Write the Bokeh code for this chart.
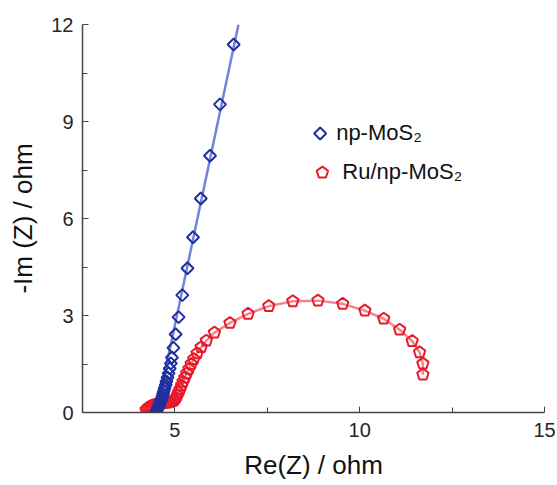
import math
from bokeh.plotting import figure
from bokeh.models import Range1d, FixedTicker
from bokeh.core.properties import value
from bokeh.embed import file_html
from bokeh.resources import INLINE

# Nyquist data (Re(Z), -Im(Z)) in ohm
np_re = [4.50, 4.52, 4.54, 4.56, 4.58, 4.60, 4.62, 4.64, 4.66, 4.68, 4.70,
         4.72, 4.75, 4.77, 4.80, 4.83, 4.86, 4.89, 4.92, 4.96, 5.02, 5.10,
         5.20, 5.34, 5.49, 5.70, 5.95, 6.22, 6.59]
np_im = [0.03, 0.08, 0.13, 0.18, 0.24, 0.30, 0.36, 0.43, 0.50, 0.58, 0.66,
         0.75, 0.85, 0.96, 1.08, 1.21, 1.36, 1.52, 1.70, 2.00, 2.42, 2.95,
         3.63, 4.46, 5.42, 6.62, 7.94, 9.53, 11.38]
# linear fit of the capacitive branch
np_fit_re = [4.50, 6.72]
np_fit_im = [0.0, 12.0]

ru_re = [4.22, 4.26, 4.30, 4.35, 4.40, 4.46, 4.52, 4.58, 4.64, 4.70, 4.76,
         4.82, 4.88, 4.94, 4.99, 5.03, 5.07, 5.10, 5.14, 5.18, 5.22, 5.27,
         5.32, 5.38, 5.44, 5.51, 5.60, 5.71, 5.85, 6.07, 6.49, 6.98, 7.54,
         8.19, 8.87, 9.54, 10.14, 10.65, 11.08, 11.42, 11.62, 11.71, 11.71]
ru_im = [0.08, 0.13, 0.17, 0.20, 0.22, 0.24, 0.26, 0.27, 0.28, 0.29, 0.30,
         0.31, 0.33, 0.35, 0.39, 0.45, 0.53, 0.62, 0.72, 0.83, 0.95, 1.08,
         1.21, 1.35, 1.50, 1.65, 1.83, 2.02, 2.22, 2.47, 2.77, 3.05, 3.29,
         3.44, 3.46, 3.36, 3.15, 2.90, 2.56, 2.21, 1.86, 1.51, 1.17]

x_ticks = [5, 10, 15]
x_minor = [7.5, 12.5]
y_ticks = [0, 3, 6, 9, 12]
y_minor = [1.5, 4.5, 7.5, 10.5]

labels = ["np-MoS₂", "Ru/np-MoS₂"]

BLUE = "#1f2f9e"
BLUE_LINE = "#5b6dd0"
RED = "#e8192a"
RED_LINE = "#f0707a"
AXIS = "#4a4242"
FONT = "Liberation Sans"

p = figure(width=557, height=485, output_backend="svg", toolbar_location=None,
           x_range=Range1d(2.5, 15), y_range=Range1d(0, 12),
           min_border_left=82, min_border_right=13, min_border_top=24,
           min_border_bottom=73)
p.outline_line_color = None
p.grid.visible = False
p.background_fill_color = "white"
p.border_fill_color = "white"

for ax, ticks, minor in ((p.xaxis[0], x_ticks, x_minor), (p.yaxis[0], y_ticks, y_minor)):
    ax.ticker = FixedTicker(ticks=ticks, minor_ticks=minor)
    ax.axis_line_color = AXIS
    ax.axis_line_width = 1.5
    ax.major_tick_line_color = AXIS
    ax.minor_tick_line_color = AXIS
    ax.major_tick_in = 6
    ax.major_tick_out = 0
    ax.minor_tick_in = 5
    ax.minor_tick_out = 0
    ax.major_label_text_font = FONT
    ax.major_label_text_font_size = "20px"
    ax.major_label_text_color = "#262626"
    ax.axis_label_text_font = FONT
    ax.axis_label_text_font_size = "26px"
    ax.axis_label_text_font_style = "normal"
    ax.axis_label_text_color = "#111111"

p.xaxis.axis_label = "Re(Z) / ohm"
p.yaxis.axis_label = "-Im (Z) / ohm"
p.xaxis.major_label_standoff = 10
p.yaxis.major_label_standoff = 9
p.xaxis.axis_label_standoff = 10
p.yaxis.axis_label_standoff = 10

# Ru/np-MoS2: equivalent-circuit curve and pentagon markers (vertex up)
p.line(ru_re, ru_im, line_color=RED_LINE, line_width=2.5, line_alpha=0.85)
p.ngon(x=ru_re, y=ru_im, radius=6, radius_units="screen", n=5,
       angle=0, fill_color=None, line_color=RED, line_width=2)

# np-MoS2: fit line and diamond markers
p.line(np_fit_re, np_fit_im, line_color=BLUE_LINE, line_width=2.5, line_alpha=0.85)
p.scatter(np_re, np_im, marker="square", size=8.5, angle=math.pi / 4,
          fill_color=None, line_color=BLUE, line_width=2)

# legend keys and labels
p.scatter([8.93], [8.63], marker="square", size=8.5, angle=math.pi / 4,
          fill_color=None, line_color=BLUE, line_width=2)
p.ngon(x=[8.99], y=[7.42], radius=6, radius_units="screen", n=5,
       angle=0, fill_color=None, line_color=RED, line_width=2)
p.text(x=[8.93, 8.99], y=[8.63, 7.42], text=labels, x_offset=[16, 20],
       y_offset=[-1, -1],
       text_font=value(FONT), text_font_size="22px", text_color="#111111",
       text_baseline="middle", text_align="left")

open("out.html", "w").write(file_html(p, INLINE))
